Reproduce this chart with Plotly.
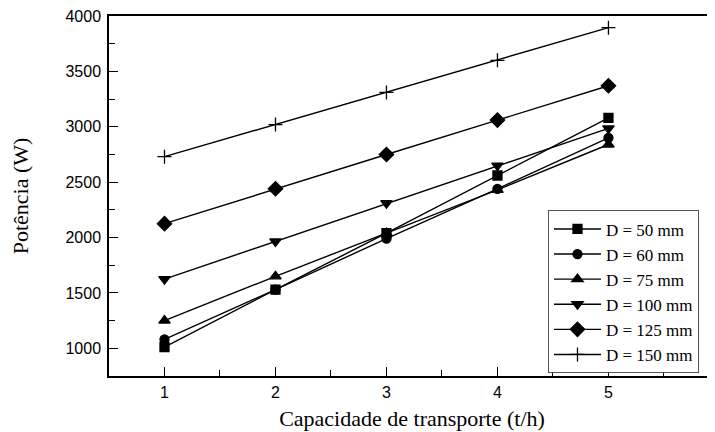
import plotly.graph_objects as go

capacidade = [1, 2, 3, 4, 5]
series_names = ["D = 50 mm", "D = 60 mm", "D = 75 mm", "D = 100 mm", "D = 125 mm", "D = 150 mm"]
d50 = [1010, 1530, 2040, 2560, 3080]
d60 = [1080, 1530, 1990, 2440, 2900]
d75 = [1250, 1650, 2040, 2430, 2840]
d100 = [1625, 1965, 2310, 2650, 2985]
d125 = [2125, 2440, 2750, 3060, 3370]
d150 = [2730, 3020, 3310, 3600, 3895]

values = [d50, d60, d75, d100, d125, d150]
symbols = ["square", "circle", "triangle-up", "triangle-down", "diamond", "cross-thin"]
sizes = [9, 9, 10, 10, 11, 10]

fig = go.Figure()
for name, vals, sym, sz in zip(series_names, values, symbols, sizes):
    fig.add_trace(go.Scatter(
        x=capacidade, y=vals, name=name, mode="lines+markers",
        line=dict(color="black", width=1.4),
        marker=dict(symbol=sym, size=sz, color="black",
                    line=dict(color="black", width=1.3)),
    ))

fig.update_layout(
    width=715, height=432,
    margin=dict(l=101, r=8, t=8, b=64),
    plot_bgcolor="white", paper_bgcolor="white",
    showlegend=True,
    legend=dict(
        x=0.7244, y=0.46, xanchor="left", yanchor="top",
        bgcolor="white", bordercolor="#555", borderwidth=1,
        font=dict(family="Liberation Serif, Times New Roman, serif", size=17, color="black"),
        itemwidth=47, tracegroupgap=0,
    ),
    font=dict(family="Liberation Sans, Arial, sans-serif", color="black"),
)
fig.update_xaxes(
    range=[0.5, 5.96], tickvals=[1, 2, 3, 4, 5], automargin=False,
    showgrid=False, zeroline=False,
    showline=True, linecolor="black", linewidth=1.5, mirror=True,
    ticks="inside", ticklen=9, tickwidth=1.2, tickcolor="black",
    minor=dict(dtick=0.5, ticks="inside", ticklen=6, tickwidth=1.2, tickcolor="black"),
    tickfont=dict(size=16, family="Liberation Sans, Arial, sans-serif", color="black"),
    ticklabelstandoff=1, ticklabeloverflow="allow",
    title=dict(text="Capacidade de transporte (t/h)",
               font=dict(family="Liberation Serif, Times New Roman, serif", size=22, color="black"),
               standoff=11),
)
fig.update_yaxes(
    range=[750, 4000], tickvals=[1000, 1500, 2000, 2500, 3000, 3500, 4000], automargin=False,
    showgrid=False, zeroline=False,
    showline=True, linecolor="black", linewidth=1.5, mirror=False,
    ticks="inside", ticklen=9, tickwidth=1.2, tickcolor="black",
    minor=dict(dtick=250, ticks="inside", ticklen=6, tickwidth=1.2, tickcolor="black"),
    tickfont=dict(size=16, family="Liberation Sans, Arial, sans-serif", color="black"),
    ticklabelstandoff=3, ticklabeloverflow="allow",
    title=dict(text="Potência (W)",
               font=dict(family="Liberation Serif, Times New Roman, serif", size=22, color="black"),
               standoff=31),
)

fig.write_html("out.html")
